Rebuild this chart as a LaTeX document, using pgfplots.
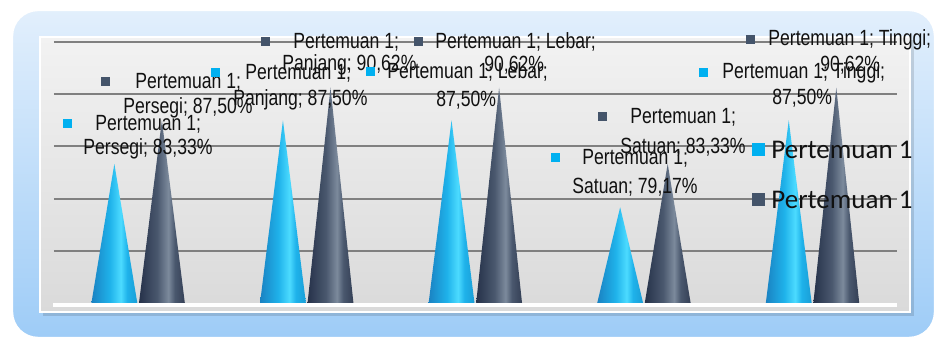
\documentclass[border=0pt]{standalone}
\usepackage{pgfplots}
\pgfplotsset{compat=1.18}
\usepackage{fontspec}
\setmainfont{Liberation Sans}
\newfontfamily\labfont{Liberation Sans}[FakeStretch=0.8]
\newfontfamily\legfont{Carlito}
\definecolor{lb}{HTML}{00B0F0}
\definecolor{db}{HTML}{44546A}
\definecolor{lcA}{HTML}{1A82C2}
\definecolor{lcB}{HTML}{1FB2EA}
\definecolor{lcC}{HTML}{4CDBFF}
\definecolor{lcD}{HTML}{1A9ED6}
\definecolor{dcA}{HTML}{26324A}
\definecolor{dcB}{HTML}{4A586E}
\definecolor{dcC}{HTML}{7C8A9C}
\definecolor{dcD}{HTML}{343F55}
\definecolor{txt}{HTML}{111111}
\pgfdeclarehorizontalshading{lightcone}{100bp}{color(0bp)=(lcA); color(25bp)=(lcA); color(45bp)=(lcB); color(57bp)=(lcC); color(64bp)=(lcB); color(75bp)=(lcD); color(100bp)=(lcD)}
\pgfdeclarehorizontalshading{darkcone}{100bp}{color(0bp)=(dcA); color(25bp)=(dcA); color(45bp)=(dcB); color(57bp)=(dcC); color(64bp)=(dcB); color(75bp)=(dcD); color(100bp)=(dcD)}
\newcommand{\dlab}[8]{%
  \fill[#1] (#2-4.5,#3-4.5) rectangle (#2+4.5,#3+4.5);
  \node[anchor=west,inner sep=0pt,text=txt,font=\fontsize{11}{12}\labfont] at (#4,#3) {#5};
  \node[anchor=west,inner sep=0pt,text=txt,font=\fontsize{11}{12}\labfont] at (#6,#7) {#8};
}
\begin{document}
\begin{tikzpicture}
\fill[white] (0,0) rectangle (468.5pt,170pt);
\begin{scope}[x=0.5pt,y=-0.5pt,yshift=170pt]
  \shade[top color={rgb,255:red,226;green,239;blue,252}, bottom color={rgb,255:red,158;green,204;blue,247}, draw=white, line width=1.2pt, rounded corners=13pt] (12,10) rectangle (935,338);
  \fill[black,opacity=0.12] (43,40) rectangle (914,316);
  \shade[top color={rgb,255:red,242;green,242;blue,242}, bottom color={rgb,255:red,218;green,218;blue,218}, draw=white, line width=1pt] (40,37) rectangle (910,312);
  \draw[white,line width=2.2pt] (53,305) -- (897,305);
\end{scope}
\begin{axis}[at={(27pt,18.5pt)}, anchor=south west, scale only axis,
  width=421.5pt, height=130.5pt,
  xmin=-0.5, xmax=4.5, ymin=70, ymax=95,
  xtick=\empty, ytick={75,80,85,90,95}, yticklabels={},
  ymajorgrids, grid style={draw={rgb,255:red,128;green,128;blue,128}, line width=1pt},
  axis line style={draw=none}, tick style={draw=none}, clip=false]
\addplot[draw=none, mark=none, shade, shading=lightcone] coordinates {(-0.278,70) (-0.142,83.33) (-0.006,70)} -- cycle;
\addplot[draw=none, mark=none, shade, shading=darkcone] coordinates {(0.004,70) (0.14,87.5) (0.276,70)} -- cycle;
\addplot[draw=none, mark=none, shade, shading=lightcone] coordinates {(0.722,70) (0.858,87.5) (0.994,70)} -- cycle;
\addplot[draw=none, mark=none, shade, shading=darkcone] coordinates {(1.004,70) (1.14,90.62) (1.276,70)} -- cycle;
\addplot[draw=none, mark=none, shade, shading=lightcone] coordinates {(1.722,70) (1.858,87.5) (1.994,70)} -- cycle;
\addplot[draw=none, mark=none, shade, shading=darkcone] coordinates {(2.004,70) (2.14,90.62) (2.276,70)} -- cycle;
\addplot[draw=none, mark=none, shade, shading=lightcone] coordinates {(2.722,70) (2.858,79.17) (2.994,70)} -- cycle;
\addplot[draw=none, mark=none, shade, shading=darkcone] coordinates {(3.004,70) (3.14,83.33) (3.276,70)} -- cycle;
\addplot[draw=none, mark=none, shade, shading=lightcone] coordinates {(3.722,70) (3.858,87.5) (3.994,70)} -- cycle;
\addplot[draw=none, mark=none, shade, shading=darkcone] coordinates {(4.004,70) (4.14,90.62) (4.276,70)} -- cycle;
\end{axis}
\begin{scope}[x=0.5pt,y=-0.5pt,yshift=170pt]
  \dlab{lb}{67}{124}{95}{Pertemuan 1;}{83}{149}{Persegi; 83,33\%}
  \dlab{db}{105}{82}{135}{Pertemuan 1;}{123}{108}{Persegi; 87,50\%}
  \dlab{lb}{215}{73}{245}{Pertemuan 1;}{233}{100}{Panjang; 87,50\%}
  \dlab{db}{265}{42}{293}{Pertemuan 1;}{282}{65}{Panjang; 90,62\%}
  \dlab{lb}{370}{72}{387}{Pertemuan 1; Lebar;}{436}{100}{87,50\%}
  \dlab{db}{418}{42}{435}{Pertemuan 1; Lebar;}{484}{65}{90,62\%}
  \dlab{lb}{555}{158}{582}{Pertemuan 1;}{572}{187}{Satuan; 79,17\%}
  \dlab{db}{602}{117}{630}{Pertemuan 1;}{620}{147}{Satuan; 83,33\%}
  \dlab{lb}{703}{73}{722}{Pertemuan 1; Tinggi;}{772}{98}{87,50\%}
  \dlab{db}{750}{40}{768}{Pertemuan 1; Tinggi;}{820}{65}{90,62\%}
  \fill[lb] (751.5,143.5) rectangle (764.5,156.5);
  \node[anchor=west,inner sep=0pt,text=txt,font=\fontsize{13.5}{15}\legfont] at (771,150) {Pertemuan 1};
  \fill[db] (751.5,193.5) rectangle (764.5,206.5);
  \node[anchor=west,inner sep=0pt,text=txt,font=\fontsize{13.5}{15}\legfont] at (771,200) {Pertemuan 1};
\end{scope}
\end{tikzpicture}
\end{document}
